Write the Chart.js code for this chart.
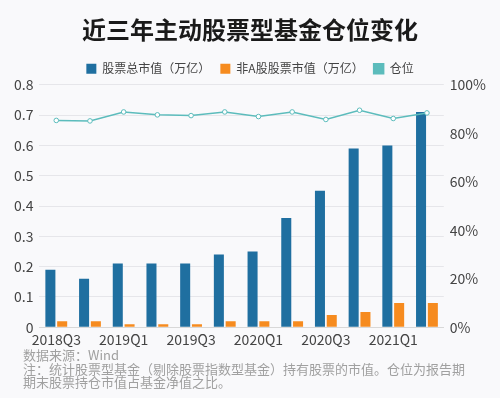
<!DOCTYPE html>
<html>
<head>
<meta charset="utf-8">
<script src="https://cdn.jsdelivr.net/npm/chart.js@4/dist/chart.umd.min.js"></script>
<style>
  html, body { margin: 0; padding: 0; background: #f9f9fb; }
  #wrap { position: relative; width: 500px; height: 398px; }
  #box { position: absolute; left: 0; top: 0; width: 500px; height: 352px; }
  .note { position: absolute; left: 23px; font-family: "Noto Sans CJK SC", sans-serif;
          font-size: 13px; color: #a0a0a0; line-height: 13px; white-space: nowrap; }
</style>
</head>
<body>
<div id="wrap">
  <div id="box"><canvas id="chart"></canvas></div>
  <div class="note" style="top:348px">数据来源：Wind</div>
  <div class="note" style="top:362px">注：统计股票型基金（剔除股票指数型基金）持有股票的市值。仓位为报告期</div>
  <div class="note" style="top:375px">期末股票持仓市值占基金净值之比。</div>
</div>
<script>
// 季度
var quarters = ['2018Q3','2018Q4','2019Q1','2019Q2','2019Q3','2019Q4',
                '2020Q1','2020Q2','2020Q3','2020Q4','2021Q1','2021Q2'];
// 股票总市值（万亿）
var totalValue = [0.19, 0.16, 0.21, 0.21, 0.21, 0.24, 0.25, 0.36, 0.45, 0.59, 0.60, 0.71];
// 非A股股票市值（万亿）
var nonAValue = [0.02, 0.02, 0.01, 0.01, 0.01, 0.02, 0.02, 0.02, 0.04, 0.05, 0.08, 0.08];
// 仓位 (%)
var position = [85.3, 85.1, 88.8, 87.6, 87.3, 88.8, 86.9, 88.8, 85.7, 89.5, 86.1, 88.4];

var leftTicks = [0, 0.1, 0.2, 0.3, 0.4, 0.5, 0.6, 0.7, 0.8];
var rightTicks = [0, 20, 40, 60, 80, 100];

var fontFam = '"Noto Sans CJK SC", "Noto Sans", sans-serif';

new Chart(document.getElementById('chart'), {
  data: {
    labels: quarters,
    datasets: [
      {
        type: 'bar', label: '股票总市值（万亿）', data: totalValue,
        backgroundColor: '#1f6fa0', yAxisID: 'y', order: 1,
        categoryPercentage: 0.7, barPercentage: 0.85
      },
      {
        type: 'bar', label: '非A股股票市值（万亿）', data: nonAValue,
        backgroundColor: '#f68b1f', yAxisID: 'y', order: 1,
        categoryPercentage: 0.7, barPercentage: 0.85
      },
      {
        type: 'line', label: '仓位', data: position,
        borderColor: '#5cbcbc', backgroundColor: '#5cbcbc', borderWidth: 1.5,
        pointRadius: 2.3, pointBorderWidth: 1, pointBackgroundColor: '#ffffff',
        pointBorderColor: '#5cbcbc', tension: 0, yAxisID: 'y1', order: 0
      }
    ]
  },
  options: {
    responsive: true,
    maintainAspectRatio: false,
    animation: false,
    layout: { padding: { left: 8, right: 8, top: 0, bottom: 0 } },
    plugins: {
      title: {
        display: true, text: '近三年主动股票型基金仓位变化',
        color: '#1a1a1a', font: { family: fontFam, size: 24, weight: 'bold' },
        padding: { top: 15, bottom: 9 }
      },
      legend: {
        display: true,
        labels: {
          boxWidth: 10, boxHeight: 10, padding: 10, color: '#444',
          font: { family: fontFam, size: 12 },
          sort: function(a, b) { return a.datasetIndex - b.datasetIndex; }
        }
      },
      tooltip: { enabled: false }
    },
    scales: {
      x: {
        grid: { display: false, drawTicks: false },
        border: { color: '#d8d8d8' },
        ticks: {
          color: '#444', font: { family: fontFam, size: 14 },
          autoSkip: false, maxRotation: 0, padding: 4,
          callback: function(v, i) { return i % 2 === 0 ? quarters[i] : ''; }
        }
      },
      y: {
        position: 'left', min: 0, max: 0.8,
        afterBuildTicks: function(ax) { ax.ticks = leftTicks.map(function(v) { return { value: v }; }); },
        grid: { color: '#e6e6ea', drawTicks: false },
        border: { display: false },
        ticks: {
          color: '#444', font: { family: fontFam, size: 14 }, padding: 6,
          callback: function(v) { return v === 0 ? '0' : v.toFixed(1); }
        }
      },
      y1: {
        position: 'right', min: 0, max: 100,
        afterBuildTicks: function(ax) { ax.ticks = rightTicks.map(function(v) { return { value: v }; }); },
        grid: { display: false, drawTicks: false },
        border: { display: false },
        ticks: {
          color: '#444', font: { family: fontFam, size: 14 }, padding: 6,
          callback: function(v) { return v + '%'; }
        }
      }
    }
  }
});
</script>
</body>
</html>
